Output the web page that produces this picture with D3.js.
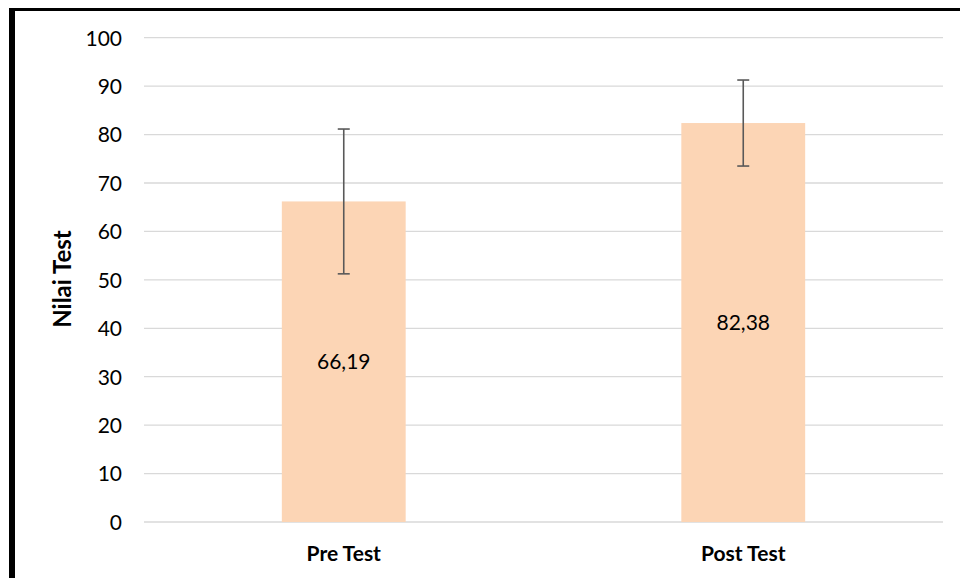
<!DOCTYPE html>
<html><head><meta charset="utf-8">
<script src="https://cdn.jsdelivr.net/npm/d3@7"></script>
<style>html,body{margin:0;padding:0;background:#fff;overflow:hidden;}svg{display:block;}</style>
</head><body>
<svg id="chart" width="960" height="578"></svg>
<script>
const categories = ["Pre Test", "Post Test"];
const means = [66.19, 82.38];
const errors = [14.95, 8.88];
const valueLabels = ["66,19", "82,38"];
const yTicks = [0, 10, 20, 30, 40, 50, 60, 70, 80, 90, 100];
const yTitle = "Nilai Test";

const svg = d3.select("#chart");
const font = "Lato, 'Open Sans', 'Liberation Sans', sans-serif";
const pLeft = 144, pRight = 943, pTop = 37.7, pBottom = 522;

// border (top and left visible)
svg.append("line").attr("x1", 9).attr("x2", 960).attr("y1", 9.5).attr("y2", 9.5)
  .attr("stroke", "#000").attr("stroke-width", 3);
svg.append("line").attr("x1", 12).attr("x2", 12).attr("y1", 8).attr("y2", 578)
  .attr("stroke", "#000").attr("stroke-width", 6);

const x = d3.scaleBand().domain(categories).range([pLeft, pRight]).padding(0);
const y = d3.scaleLinear().domain([0, 100]).range([pBottom, pTop]);
const barW = x.bandwidth() * 0.31;

// gridlines
svg.append("g").selectAll("line").data(yTicks).join("line")
  .attr("x1", pLeft).attr("x2", pRight)
  .attr("y1", d => y(d)).attr("y2", d => y(d))
  .attr("stroke", "#D9D9D9").attr("stroke-width", 1.3);

// y axis labels
const yAxis = d3.axisLeft(y).tickValues(yTicks).tickSize(0).tickPadding(0);
const gy = svg.append("g").attr("transform", `translate(122,0)`).call(yAxis);
gy.select(".domain").remove();
gy.selectAll("text").attr("font-family", font).attr("font-size", 21).attr("fill", "#000").attr("dy", "0.35em");

// bars
const cx = d => x(d) + x.bandwidth() / 2;
svg.append("g").selectAll("rect").data(categories).join("rect")
  .attr("x", d => cx(d) - barW / 2)
  .attr("width", barW)
  .attr("y", (d, i) => y(means[i]))
  .attr("height", (d, i) => y(0) - y(means[i]))
  .attr("fill", "#FCD5B5");

// error bars
const eg = svg.append("g").attr("stroke", "#595959").attr("stroke-width", 1.6);
categories.forEach((c, i) => {
  const hi = y(means[i] + errors[i]), lo = y(means[i] - errors[i]);
  eg.append("line").attr("x1", cx(c)).attr("x2", cx(c)).attr("y1", hi).attr("y2", lo);
  eg.append("line").attr("x1", cx(c) - 6).attr("x2", cx(c) + 6).attr("y1", hi).attr("y2", hi);
  eg.append("line").attr("x1", cx(c) - 6).attr("x2", cx(c) + 6).attr("y1", lo).attr("y2", lo);
});

// value labels
svg.append("g").selectAll("text").data(categories).join("text")
  .attr("x", d => cx(d))
  .attr("y", (d, i) => (y(means[i]) + y(0)) / 2)
  .attr("dy", "0.35em")
  .attr("text-anchor", "middle")
  .attr("font-family", font).attr("font-size", 21).attr("fill", "#000")
  .text((d, i) => valueLabels[i]);

// x labels
const xAxis = d3.axisBottom(x).tickSize(0).tickPadding(0);
const gx = svg.append("g").attr("transform", `translate(0,${pBottom + 31.5})`).call(xAxis);
gx.select(".domain").remove();
gx.selectAll("text").attr("font-family", font).attr("font-size", 21).attr("font-weight", "bold")
  .attr("fill", "#000").attr("dy", "0.35em");

// y title
svg.append("text")
  .attr("transform", `translate(63,279) rotate(-90)`)
  .attr("text-anchor", "middle").attr("dy", "0.35em")
  .attr("font-family", font).attr("font-size", 24).attr("font-weight", "bold").attr("fill", "#000")
  .text(yTitle);
</script>
</body></html>
